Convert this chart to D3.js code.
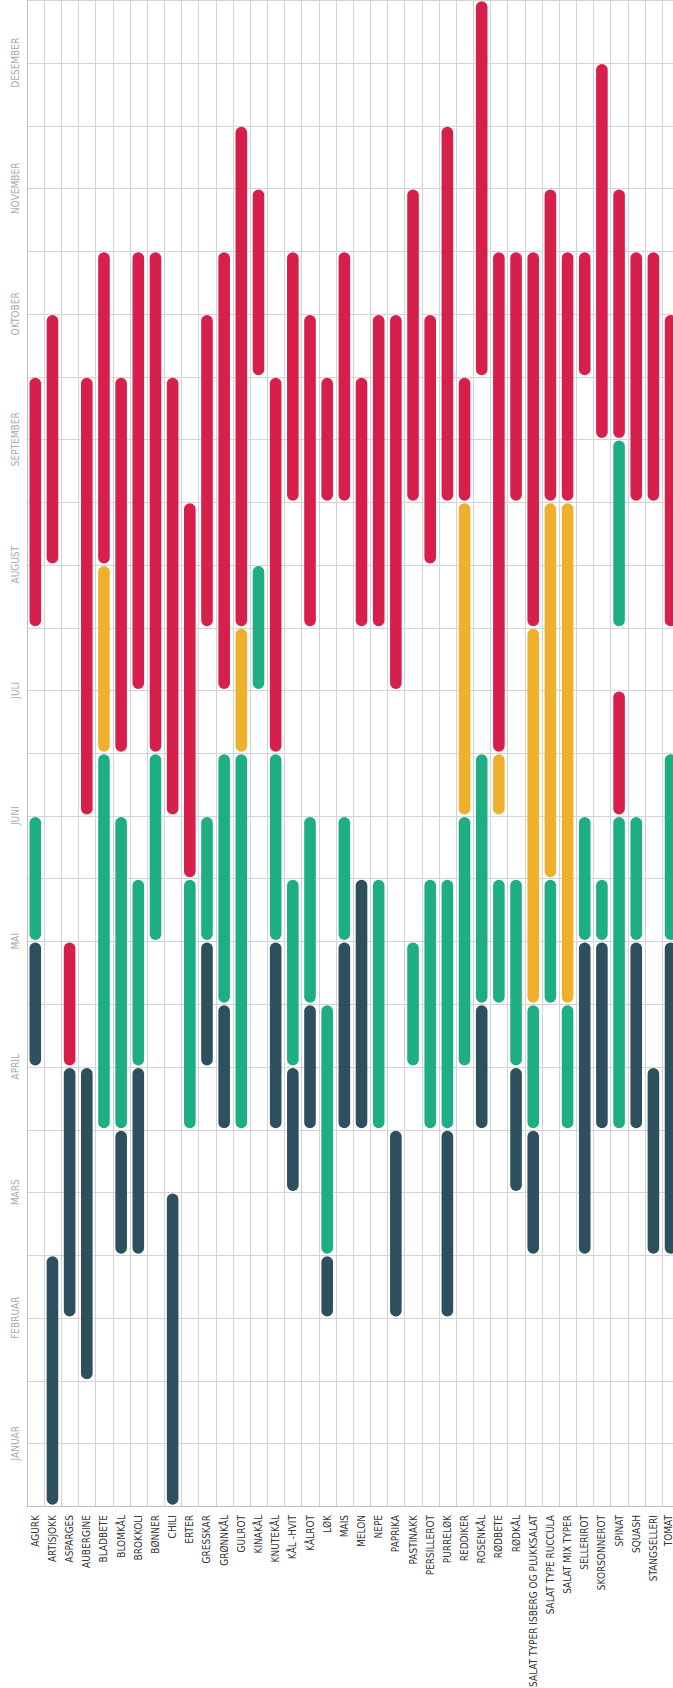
<!DOCTYPE html>
<html>
<head>
<meta charset="utf-8">
<script src="https://cdn.jsdelivr.net/npm/d3@7"></script>
<style>
  html, body { margin: 0; padding: 0; background: #fff; }
  svg { display: block; }
  text { font-family: "Liberation Sans Narrow", "DejaVu Sans Condensed", sans-serif; }
</style>
</head>
<body>
<div id="chart"></div>
<script>
// Vegetables along the x axis
const vegetables = [
  'AGURK', 'ARTISJOKK', 'ASPARGES', 'AUBERGINE', 'BLADBETE', 'BLOMKÅL', 'BROKKOLI',
  'BØNNER', 'CHILI', 'ERTER', 'GRESSKAR', 'GRØNNKÅL', 'GULROT', 'KINAKÅL', 'KNUTEKÅL',
  'KÅL -HVIT', 'KÅLROT', 'LØK', 'MAIS', 'MELON', 'NEPE', 'PAPRIKA', 'PASTINAKK',
  'PERSILLEROT', 'PURRELØK', 'REDDIKER', 'ROSENKÅL', 'RØDBETE', 'RØDKÅL',
  'SALAT TYPER ISBERG OG PLUKKSALAT', 'SALAT TYPE RUCCULA', 'SALAT MIX TYPER',
  'SELLERIROT', 'SKORSONNEROT', 'SPINAT', 'SQUASH', 'STANGSELLERI', 'TOMAT'
];

// Month labels (0 = start of January, 12 = end of December)
const months = ['JANUAR', 'FEBRUAR', 'MARS', 'APRIL', 'MAI', 'JUNI', 'JULI',
  'AUGUST', 'SEPTEMBER', 'OKTOBER', 'NOVEMBER', 'DESEMBER'];

// Periods per vegetable as [start, end] in months, one list per phase
const indoorSowing = [
  [[3.5, 4.5]], [[0, 2]], [[1.5, 3.5]], [[1, 3.5]], [], [[2, 3]], [[2, 3.5]],
  [], [[0, 2.5]], [], [[3.5, 4.5]], [[3, 4]], [], [], [[3, 4.5]],
  [[2.5, 3.5]], [[3, 4]], [[1.5, 2]], [[3, 4.5]], [[3, 5]], [], [[1.5, 3]], [],
  [], [[1.5, 3]], [], [[3, 4]], [], [[2.5, 3.5]],
  [[2, 3]], [], [],
  [[2, 4.5]], [[3, 4.5]], [], [[3, 4.5]], [[2, 3.5]], [[2, 4.5]]
];
const outdoorSowing = [
  [[4.5, 5.5]], [], [], [], [[3, 6]], [[3, 5.5]], [[3.5, 5]],
  [[4.5, 6]], [], [[3, 5]], [[4.5, 5.5]], [[4, 6]], [[3, 6]], [[6.5, 7.5]], [[4.5, 6]],
  [[3.5, 5]], [[4, 5.5]], [[2, 4]], [[4.5, 5.5]], [], [[3, 5]], [], [[3.5, 4.5]],
  [[3, 5]], [[3, 5]], [[3.5, 5.5]], [[4, 6]], [[4, 5]], [[3.5, 5]],
  [[3, 4]], [[4, 5]], [[3, 4]],
  [[4.5, 5.5]], [[4.5, 5]], [[3, 5.5], [7, 8.5]], [[4.5, 5.5]], [], [[4.5, 6]]
];
const earlyHarvest = [
  [], [], [], [], [[6, 7.5]], [], [],
  [], [], [], [], [], [[6, 7]], [], [],
  [], [], [], [], [], [], [], [],
  [], [], [[5.5, 8]], [], [[5.5, 6]], [],
  [[4, 7]], [[5, 8]], [[4, 8]],
  [], [], [], [], [], []
];
const harvest = [
  [[7, 9]], [[7.5, 9.5]], [[3.5, 4.5]], [[5.5, 9]], [[7.5, 10]], [[6, 9]], [[6.5, 10]],
  [[6, 10]], [[5.5, 9]], [[5, 8]], [[7, 9.5]], [[6.5, 10]], [[7, 11]], [[9, 10.5]], [[6, 9]],
  [[8, 10]], [[7, 9.5]], [[8, 9]], [[8, 10]], [[7, 9]], [[7, 9.5]], [[6.5, 9.5]], [[8, 10.5]],
  [[7.5, 9.5]], [[8, 11]], [[8, 9]], [[9, 12]], [[6, 10]], [[8, 10]],
  [[7, 10]], [[8, 10.5]], [[8, 10]],
  [[9, 10]], [[8.5, 11.5]], [[5.5, 6.5], [8.5, 10.5]], [[8, 10]], [[8, 10]], [[7, 9.5]]
];

const phases = [
  { periods: indoorSowing, color: '#2d4f5e' },
  { periods: outdoorSowing, color: '#1daf83' },
  { periods: earlyHarvest, color: '#efb02b' },
  { periods: harvest, color: '#d71f4b' }
];

function drawCalendar() {
  const width = 673;
  const height = 1688;
  const left = 26.7;
  const colWidth = 17.17;
  const plotBottom = 1506;

  const svg = d3.select('#chart')
    .append('svg')
    .attr('width', width)
    .attr('height', height);

  const x = d3.scaleBand()
    .domain(vegetables)
    .range([left, left + vegetables.length * colWidth])
    .padding(0);

  const y = d3.scaleLinear()
    .domain([0, 12])
    .range([plotBottom, 0]);

  // Horizontal grid, every half month
  const halfMonths = d3.range(0, 12.01, 0.5);
  svg.selectAll('.hgrid')
    .data(halfMonths)
    .enter()
    .append('line')
    .attr('class', 'hgrid')
    .attr('x1', left)
    .attr('x2', x.range()[1])
    .attr('y1', d => Math.round(y(d)) + 0.5)
    .attr('y2', d => Math.round(y(d)) + 0.5)
    .attr('stroke', d => d === 0 ? '#bdbdbd' : '#d4d4d4')
    .attr('stroke-width', 1);

  // Vertical grid, one line per column edge
  const edges = vegetables.map(v => x(v)).concat([x.range()[1]]);
  svg.selectAll('.vgrid')
    .data(edges)
    .enter()
    .append('line')
    .attr('class', 'vgrid')
    .attr('x1', d => Math.round(d) + 0.5)
    .attr('x2', d => Math.round(d) + 0.5)
    .attr('y1', y(12))
    .attr('y2', plotBottom)
    .attr('stroke', (d, i) => i === 0 ? '#bdbdbd' : '#d4d4d4')
    .attr('stroke-width', 1);

  // Flatten phases to one record per bar segment
  const segments = [];
  phases.forEach(phase => {
    phase.periods.forEach((list, i) => {
      list.forEach(p => segments.push({ veg: vegetables[i], start: p[0], end: p[1], color: phase.color }));
    });
  });

  const barWidth = 11.6;
  const inset = 1.2;
  svg.selectAll('.segment')
    .data(segments)
    .enter()
    .append('rect')
    .attr('class', 'segment')
    .attr('x', d => x(d.veg) + x.bandwidth() / 2 - barWidth / 2)
    .attr('y', d => y(d.end) + inset)
    .attr('width', barWidth)
    .attr('height', d => y(d.start) - y(d.end) - inset * 2)
    .attr('rx', barWidth / 2)
    .attr('ry', barWidth / 2)
    .attr('fill', d => d.color);

  // Month labels on the left, centred in each month
  svg.selectAll('.month-label')
    .data(months)
    .enter()
    .append('text')
    .attr('class', 'month-label')
    .attr('transform', (d, i) => `translate(15,${y(i + 0.5)}) rotate(-90)`)
    .attr('text-anchor', 'middle')
    .attr('dominant-baseline', 'central')
    .attr('fill', '#a9a9a9')
    .style('font-size', '10px')
    .text(d => d);

  // Vegetable labels below the chart (last one kept inside the page)
  svg.selectAll('.veg-label')
    .data(vegetables)
    .enter()
    .append('text')
    .attr('class', 'veg-label')
    .attr('transform', d => `translate(${Math.min(x(d) + x.bandwidth() / 2, width - 5)},${plotBottom + 9}) rotate(-90)`)
    .attr('text-anchor', 'end')
    .attr('dominant-baseline', 'central')
    .attr('fill', '#333')
    .style('font-size', '10px')
    .text(d => d);
}

drawCalendar();
</script>
</body>
</html>
